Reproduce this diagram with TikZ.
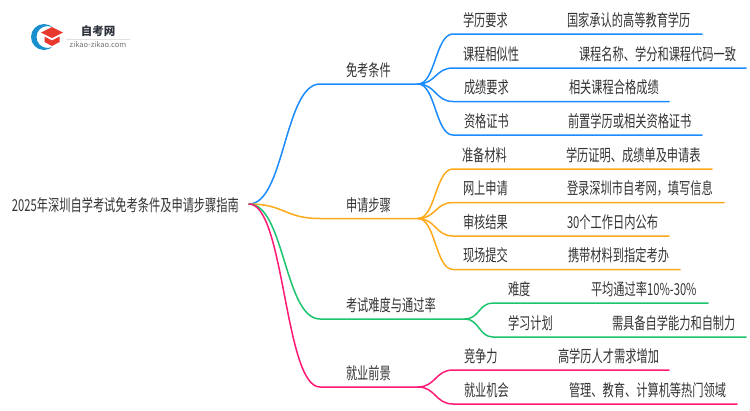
\documentclass[tikz,border=0pt]{standalone}
\usepackage{fontspec}
\setmainfont{Noto Sans CJK SC}
\newfontfamily\cjk[FakeStretch=0.68]{Noto Sans CJK SC}
\usetikzlibrary{calc}
\definecolor{cblue}{HTML}{1A8CFF}
\definecolor{corange}{HTML}{FFAA1A}
\definecolor{cgreen}{HTML}{1CC46E}
\definecolor{cpink}{HTML}{FF1A75}
\definecolor{ctext}{HTML}{333333}
\tikzset{
  lab/.style={anchor=base west,inner sep=0pt,outer sep=0pt,font=\cjk\fontsize{16.5}{18}\selectfont,text=ctext},
  link/.style={line width=1.5pt,line cap=round,line join=round}
}
% \lnk{colour}{from}{curve end}{line end}
\newcommand\lnk[4]{%
  \coordinate (mm) at ($(#2)!.5!(#3)$);
  \draw[link,#1] (#2) .. controls (mm|-#2) and (mm|-#3) .. (#3) -- (#4);
}
% \rowitem{name}{colour}{junction}{y}{curve end x}{line end x}{label x}{label}{value x}{value}
\newcommand\rowitem[9]{%
  \coordinate (#1s) at (#4,#3);
  \coordinate (#1e) at (#5,#3);
  \lnk{#2}{j#1}{#1s}{#1e}
  \node[lab] (#1a) at (#6,#3-8) {#7};
  \node[lab] (#1b) at (#8,#3-8) {#9};
}
\begin{document}
\begin{tikzpicture}[x=1pt,y=-1pt]
\useasboundingbox (0,0) rectangle (750,410);
\fill[white] (0,0) rectangle (750,410);
% logo
\fill[even odd rule,color={rgb,255:red,26;green,143;blue,208}] (44,37) circle (13) (47.5,37) circle (11);
\fill[white] (52,20) rectangle (70,55);
\fill[color={rgb,255:red,232;green,57;blue,47}] (41,32.5)--(52,27)--(63,32.5)--(52,38)--cycle;
\fill[color={rgb,255:red,232;green,57;blue,47}] (44.5,36.5)--(52,40.5)--(59.5,36.5)--(59.5,42)--(52,46)--(44.5,42)--cycle;
\node[inner sep=0pt,font=\fontsize{11.5}{13}\selectfont\bfseries,text={rgb,255:red,45;green,50;blue,60}] (logoa) at (98,31) {自考网};
\draw[line width=.5pt,black!12] (66,39) -- (130,39);
\node[inner sep=0pt,font=\fontsize{7.5}{9}\selectfont,text=black!55] (logob) at (98,45) {zikao-zikao.com};
% root
\node[lab] (root) at (12,211.2) {2025年深圳自学考试免考条件及申请步骤指南};
\coordinate (r) at (249,204);
% main branches
\coordinate (a1) at (320,84);  \coordinate (a2) at (418,84);
\coordinate (b1) at (320,218.5); \coordinate (b2) at (418,218.5);
\coordinate (c1) at (320,319); \coordinate (c2) at (465,319);
\coordinate (d1) at (320,387); \coordinate (d2) at (418,387);
\lnk{cblue}{r}{a1}{a2}
\lnk{corange}{r}{b1}{b2}
\lnk{cgreen}{r}{c1}{c2}
\lnk{cpink}{r}{d1}{d2}
\node[lab] (at) at (346,76.8) {免考条件};
\node[lab] (bt) at (346,211.3) {申请步骤};
\node[lab] (ct) at (346,311.8) {考试难度与通过率};
\node[lab] (dt) at (346,379.8) {就业前景};
% group a
\coordinate (ja1) at (a2);\coordinate (ja2) at (a2);\coordinate (ja3) at (a2);\coordinate (ja4) at (a2);
\rowitem{a1}{cblue}{34}{453}{702}{463}{学历要求}{567}{国家承认的高等教育学历}
\rowitem{a2}{cblue}{68}{453}{746}{463}{课程相似性}{579}{课程名称、学分和课程代码一致}
\rowitem{a3}{cblue}{101.5}{453}{669}{464}{成绩要求}{569}{相关课程合格成绩}
\rowitem{a4}{cblue}{135}{453}{702}{464}{资格证书}{568}{前置学历或相关资格证书}
% group b
\coordinate (jb1) at (b2);\coordinate (jb2) at (b2);\coordinate (jb3) at (b2);\coordinate (jb4) at (b2);
\rowitem{b1}{corange}{169}{453}{712}{462}{准备材料}{566}{学历证明、成绩单及申请表}
\rowitem{b2}{corange}{202.5}{453}{724}{463}{网上申请}{567}{登录深圳市自考网，填写信息}
\rowitem{b3}{corange}{236}{453}{669}{463}{审核结果}{567}{30个工作日内公布}
\rowitem{b4}{corange}{269.5}{453}{680}{463}{现场提交}{568}{携带材料到指定考办}
% group c
\coordinate (jc1) at (c2);\coordinate (jc2) at (c2);
\rowitem{c1}{cgreen}{303}{493}{708}{508}{难度}{591}{平均通过率10\%-30\%}
\rowitem{c2}{cgreen}{337}{493}{746}{508}{学习计划}{612}{需具备自学能力和自制力}
% group d
\coordinate (jd1) at (d2);\coordinate (jd2) at (d2);
\rowitem{d1}{cpink}{370}{453}{669}{464}{竞争力}{558}{高学历人才需求增加}
\rowitem{d2}{cpink}{404}{453}{737}{464}{就业机会}{569}{管理、教育、计算机等热门领域}
\end{tikzpicture}
\end{document}
